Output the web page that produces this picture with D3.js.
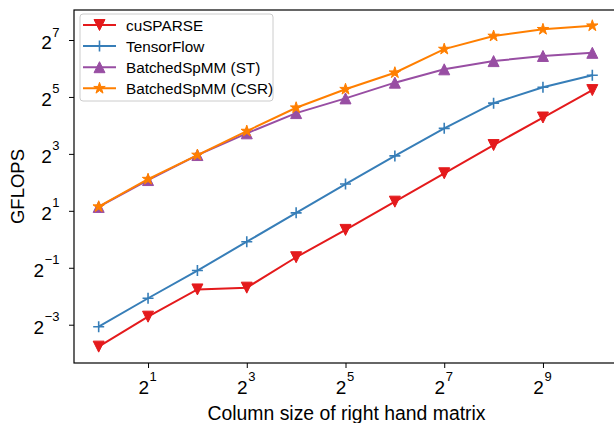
<!DOCTYPE html>
<html>
<head>
<meta charset="utf-8">
<script src="https://cdn.jsdelivr.net/npm/d3@7"></script>
<style>
    body { margin: 0; background: #fff; }
    svg { display: block; font-family: "Liberation Sans", Arial, sans-serif; }
</style>
</head>
<body>
<div class="canvas"></div>
<script>
// data (GFLOPS vs column count)
const columns = [1, 2, 4, 8, 16, 32, 64, 128, 256, 512, 1024];
const cusparse = [0.0733, 0.152, 0.295, 0.308, 0.646, 1.257, 2.50, 4.99, 9.92, 19.4, 37.8];
const tensorflow = [0.119, 0.238, 0.467, 0.943, 1.905, 3.84, 7.62, 14.9, 27.5, 40.5, 54.2];
const batchedST = [2.20, 4.23, 7.78, 13.2, 21.6, 30.9, 45.3, 62.7, 76.6, 86.8, 93.7];
const batchedCSR = [2.21, 4.32, 7.78, 13.93, 24.6, 38.6, 57.7, 102.5, 141, 166, 181];
const seriesNames = ['cuSPARSE', 'TensorFlow', 'BatchedSpMM (ST)', 'BatchedSpMM (CSR)'];
const xTickExps = [1, 3, 5, 7, 9];
const yTickExps = [-3, -1, 1, 3, 5, 7];

const width = 614;
const height = 423;

const svg = d3.select('.canvas')
    .append('svg')
    .attr('width', width)
    .attr('height', height);

// plot box (right edge sits just past the picture)
const margin = { top: 10, right: -3, bottom: 60, left: 74 };
const graphWidth = width - margin.left - margin.right;
const graphHeight = height - margin.top - margin.bottom;

const graph = svg.append('g')
    .attr('transform', `translate(${margin.left}, ${margin.top})`);

const x = d3.scaleLog().base(2)
    .domain([Math.pow(2, -0.5), Math.pow(2, 10.5)])
    .range([0, graphWidth]);

const y = d3.scaleLog().base(2)
    .domain([Math.pow(2, -4.345), Math.pow(2, 8.054)])
    .range([graphHeight, 0]);

// markers, matplotlib-ish sizes
const triDown = 'M-5.5,-5.5L5.5,-5.5L0,5.5Z';
const triUp = 'M0,-5.5L5.5,5.5L-5.5,5.5Z';
const plus = 'M-5.5,0H5.5M0,-5.5V5.5';
const star = (() => {
    const pts = [];
    for (let i = 0; i < 10; i++) {
        const r = i % 2 === 0 ? 6 : 6 * 0.382;
        const a = -Math.PI / 2 + i * Math.PI / 5;
        pts.push([r * Math.cos(a), r * Math.sin(a)]);
    }
    return 'M' + pts.map(p => p.join(',')).join('L') + 'Z';
})();

const series = [
    { name: seriesNames[0], values: cusparse, color: '#e41a1c', marker: triDown, filled: true },
    { name: seriesNames[1], values: tensorflow, color: '#377eb8', marker: plus, filled: false },
    { name: seriesNames[2], values: batchedST, color: '#984ea3', marker: triUp, filled: true },
    { name: seriesNames[3], values: batchedCSR, color: '#ff7f00', marker: star, filled: true }
];

const line = d3.line()
    .x((d, i) => x(columns[i]))
    .y(d => y(d));

// axes
const xAxis = d3.axisBottom(x)
    .tickValues(xTickExps.map(e => Math.pow(2, e)))
    .tickSize(5)
    .tickFormat(d => Math.round(Math.log2(d)));

const yAxis = d3.axisLeft(y)
    .tickValues(yTickExps.map(e => Math.pow(2, e)))
    .tickSize(5)
    .tickFormat(d => Math.round(Math.log2(d)));

const xAxisGroup = graph.append('g')
    .attr('transform', `translate(0, ${graphHeight})`)
    .call(xAxis);

const yAxisGroup = graph.append('g')
    .call(yAxis);

// turn tick labels into 2 with a superscript exponent
function powerLabels(sel) {
    sel.selectAll('.tick text').each(function () {
        const t = d3.select(this);
        const e = +t.text();
        t.text(null)
            .attr('dy', null)
            .attr('font-size', 19)
            .attr('font-family', '"Liberation Sans", Arial, sans-serif')
            .attr('fill', '#000');
        t.append('tspan').text('2');
        t.append('tspan')
            .attr('font-size', 13)
            .attr('dx', 0.5)
            .attr('dy', -12.5)
            .text(e < 0 ? '\u2212' + Math.abs(e) : e);
    });
    sel.selectAll('.domain').remove();
    sel.selectAll('.tick line').attr('stroke', '#000').attr('stroke-width', 1);
}
xAxisGroup.call(powerLabels);
yAxisGroup.call(powerLabels);
xAxisGroup.selectAll('.tick text').attr('y', 30.5).attr('x', -1);
yAxisGroup.selectAll('.tick text').attr('y', 8.5).attr('x', -14.5);

// spines
graph.append('rect')
    .attr('x', 0)
    .attr('y', 0)
    .attr('width', graphWidth)
    .attr('height', graphHeight)
    .attr('fill', 'none')
    .attr('stroke', '#000')
    .attr('stroke-width', 1.2);

// lines and markers
series.forEach(s => {
    graph.append('path')
        .datum(s.values)
        .attr('fill', 'none')
        .attr('stroke', s.color)
        .attr('stroke-width', 2)
        .attr('d', line);

    graph.selectAll(null)
        .data(s.values)
        .enter()
        .append('path')
        .attr('transform', (d, i) => `translate(${x(columns[i])}, ${y(d)})`)
        .attr('d', s.marker)
        .attr('fill', s.filled ? s.color : 'none')
        .attr('stroke', s.color)
        .attr('stroke-width', s.filled ? 1 : 1.6);
});

// legend
const legend = svg.append('g')
    .attr('transform', 'translate(80, 14)');

legend.append('rect')
    .attr('width', 193)
    .attr('height', 87)
    .attr('rx', 3)
    .attr('fill', '#fff')
    .attr('fill-opacity', 0.8)
    .attr('stroke', '#cccccc')
    .attr('stroke-width', 1);

const items = legend.selectAll('.item')
    .data(series)
    .enter()
    .append('g')
    .attr('transform', (d, i) => `translate(0, ${11 + i * 21.1})`);

items.append('line')
    .attr('x1', 3)
    .attr('x2', 36)
    .attr('stroke', d => d.color)
    .attr('stroke-width', 2);

items.append('path')
    .attr('transform', 'translate(19.5, 0)')
    .attr('d', d => d.marker)
    .attr('fill', d => d.filled ? d.color : 'none')
    .attr('stroke', d => d.color)
    .attr('stroke-width', d => d.filled ? 1 : 1.6);

items.append('text')
    .attr('x', 46)
    .attr('dy', '0.36em')
    .attr('font-size', 15.3)
    .text(d => d.name);

// axis titles
svg.append('text')
    .attr('x', 346.5)
    .attr('y', 420)
    .attr('text-anchor', 'middle')
    .attr('font-size', 19.4)
    .text('Column size of right hand matrix');

svg.append('text')
    .attr('transform', 'translate(24, 186.5) rotate(-90)')
    .attr('text-anchor', 'middle')
    .attr('font-size', 18.5)
    .text('GFLOPS');
</script>
</body>
</html>
